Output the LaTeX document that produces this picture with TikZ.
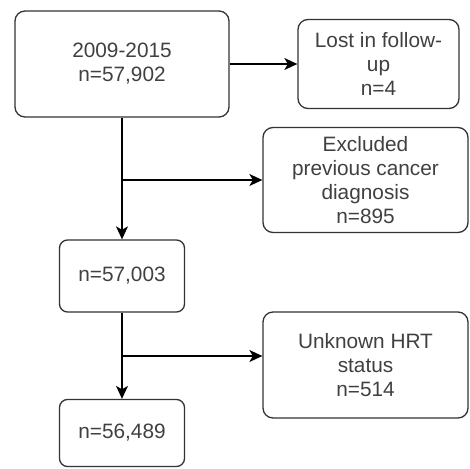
\documentclass[tikz,border=0pt]{standalone}
\usepackage{fontspec}
\setmainfont{Liberation Sans}
\usetikzlibrary{positioning,arrows.meta}
\begin{document}
\begin{tikzpicture}[x=1pt,y=-1pt]
		\tikzstyle{every node}+=[inner sep=0pt, font=\fontsize{20.8}{24}\selectfont, text=black!75]
		\tikzstyle{box}=[draw=black!80, line width=1.3pt, rounded corners=10pt, align=center]
		\tikzstyle{link}=[black, line width=1.3pt, -{Stealth[length=13pt,width=12pt,inset=3.5pt]}]
		\useasboundingbox (0,0) rectangle (470,468);
		\node [box, minimum width=214pt, minimum height=106pt] (all) at (122,64) {2009-2015\\n=57,902};
		\node [box, minimum width=161pt, minimum height=89pt] (lost) at (378.5,64) {Lost in follow-\\up\\n=4};
		\node [box, minimum width=205pt, minimum height=105pt] (excl) at (365.5,180) {Excluded\\previous cancer\\diagnosis\\n=895};
		\node [box, minimum width=125pt, minimum height=72pt, rounded corners=8pt] (n1) at (122,276) {n=57,003};
		\node [box, minimum width=205pt, minimum height=106pt] (hrt) at (365.5,365) {Unknown HRT\\status\\n=514};
		\node [box, minimum width=125pt, minimum height=67pt, rounded corners=8pt] (n2) at (122,433) {n=56,489};
		\coordinate (split) at (122,356);
		\draw [link] (all.east) -- (lost.west);
		\draw [link] (all.south) -- (n1.north);
		\draw [link] (all.south |- excl.west) -- (excl.west);
		\draw [link] (n1.south) -- (n2.north);
		\draw [link] (split) -- (hrt.west |- split);
\end{tikzpicture}
\end{document}
